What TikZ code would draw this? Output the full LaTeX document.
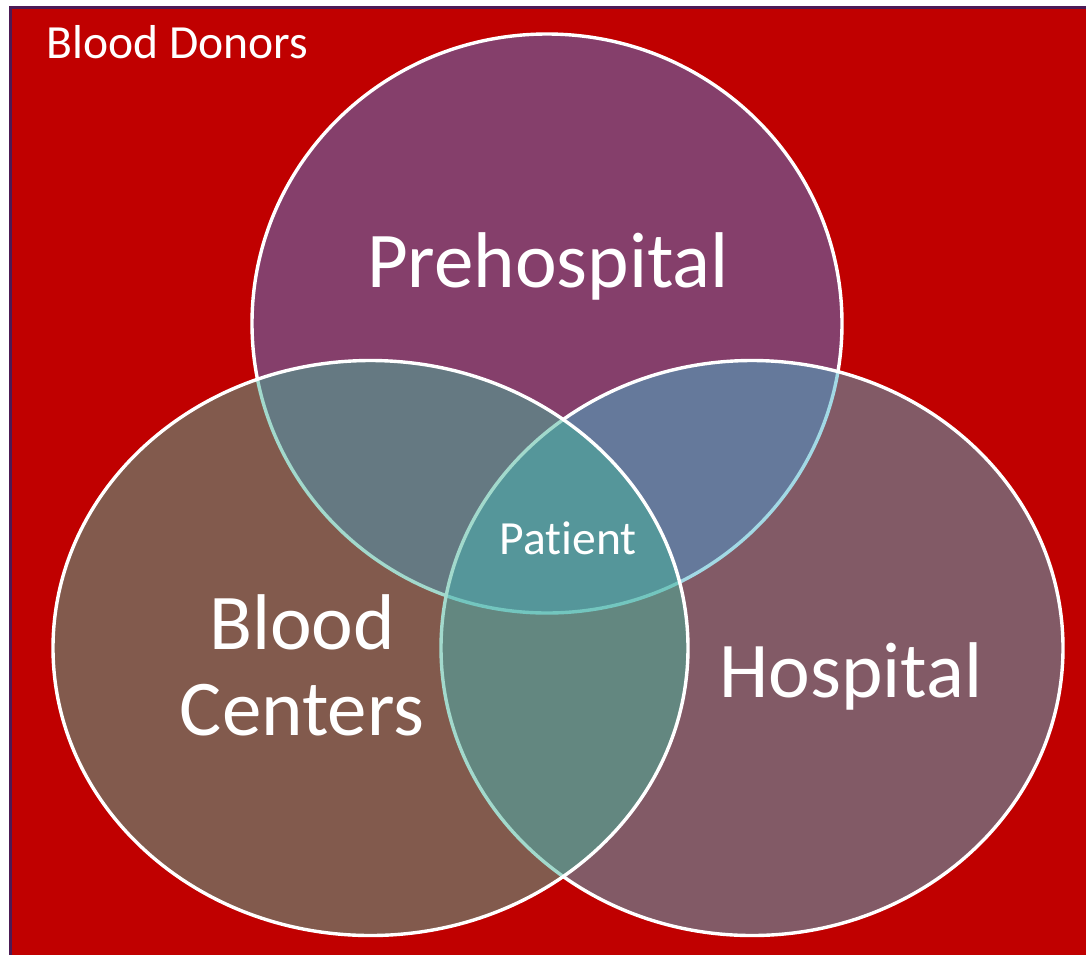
\documentclass[tikz,border=0pt]{standalone}
\usepackage{fontspec}
\setmainfont{Carlito}[Ligatures=NoCommon]
\definecolor{donorred}{RGB}{192,0,0}
\definecolor{frameedge}{RGB}{75,26,85}
\definecolor{prehosp}{RGB}{76,126,214}
\definecolor{hosp}{RGB}{70,180,204}
\definecolor{centers}{RGB}{70,180,154}
\begin{document}
\begin{tikzpicture}[x=0.5pt,y=-0.5pt,
    venn/.style={draw=white,line width=1.7pt,fill opacity=0.5},
    biglabel/.style={text=white,inner sep=0pt,font=\fontsize{39.5}{43}\selectfont},
    smalllabel/.style={text=white,inner sep=0pt,font=\fontsize{23.8}{27}\selectfont}]
    \useasboundingbox (0,0) rectangle (1086,954);
    \fill[white] (0,0) rectangle (1086,954);
    \draw[frameedge,line width=1.5pt,fill=donorred] (10,7) rectangle (1100,970);
    % three sets, top one first, left one last
    \draw[venn,fill=prehosp] (547,323.5) ellipse [x radius=295,y radius=289.5]; % top
    \draw[venn,fill=hosp] (752,648) ellipse [x radius=311,y radius=287.5]; % right
    \draw[venn,fill=centers] (370.5,648) ellipse [x radius=317.5,y radius=287.5]; % left
    \node[smalllabel,anchor=base west] (donors) at (46,58) {Blood Donors};
    \node[biglabel,anchor=base] (prehospital) at (548,287) {Prehospital};
    \node[biglabel,anchor=base,align=center] (bloodcenters) at (302,735) {Blood\\Centers};
    \node[biglabel,anchor=base] (hospital) at (851,697) {Hospital};
    \node[smalllabel,anchor=base] (patient) at (568,554) {Patient};
\end{tikzpicture}
\end{document}
